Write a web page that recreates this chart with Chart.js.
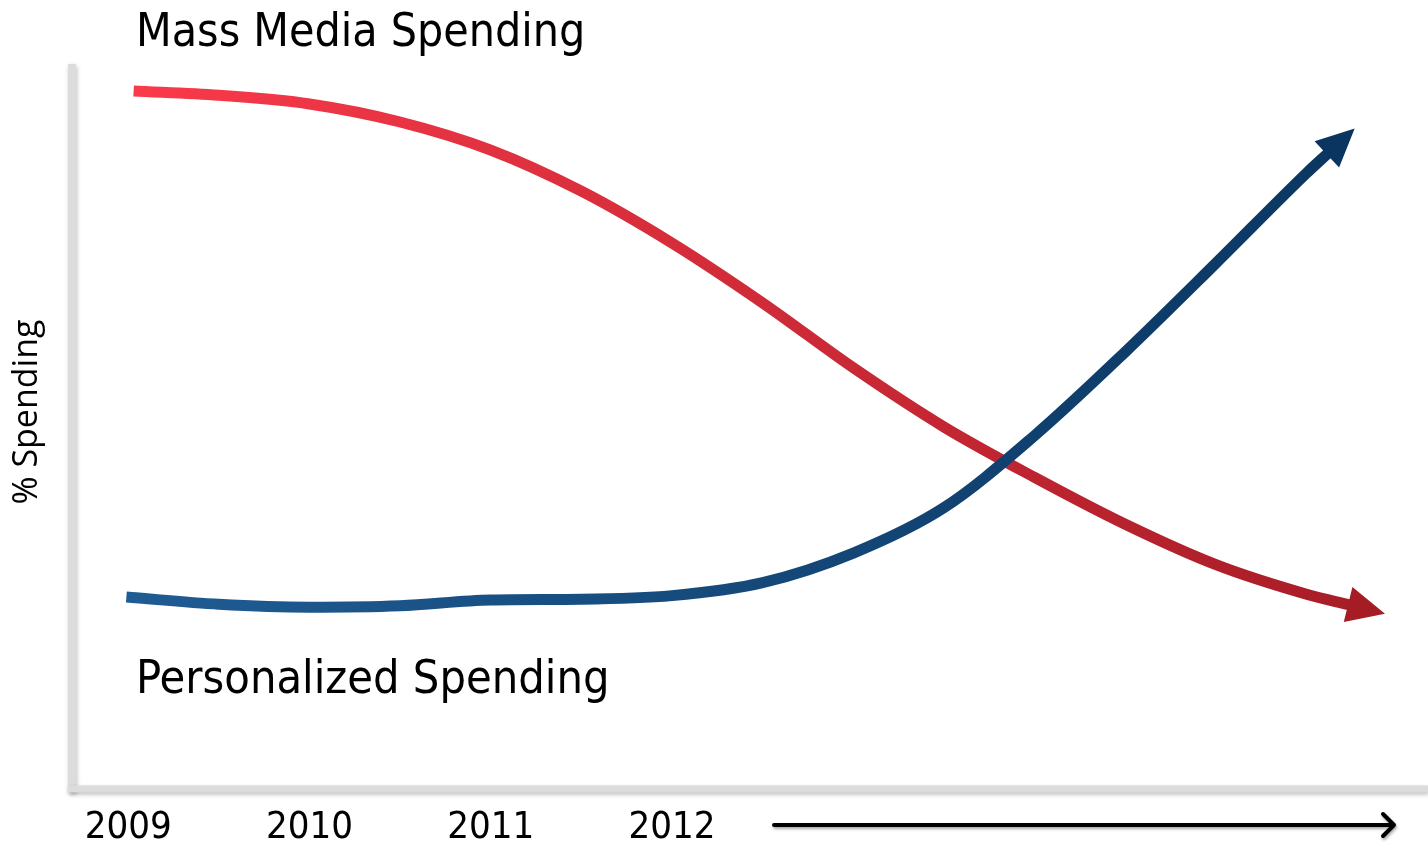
<!DOCTYPE html>
<html>
<head>
<meta charset="utf-8">
<script src="https://cdn.jsdelivr.net/npm/chart.js@4/dist/chart.umd.min.js"></script>
<style>
  html, body { margin: 0; padding: 0; background: #fff; }
  #wrap { width: 1428px; height: 849px; position: relative; }
</style>
</head>
<body>
<div id="wrap"><canvas id="chart"></canvas></div>
<script>
// years shown along the bottom axis
const tickYears = [2009, 2010, 2011, 2012];

// mass media spending, % of budget
const massYears = [2009.03, 2009.5, 2010, 2010.5, 2011, 2011.5, 2012, 2012.5, 2013, 2013.5, 2014, 2014.5, 2015, 2015.5, 2015.74];
const massMedia = [96.4, 95.8, 94.6, 92.1, 88.2, 82.5, 75.3, 67.0, 58.0, 49.8, 42.8, 36.3, 30.7, 26.6, 25.1];

// personalized spending, % of budget
const personalYears = [2008.99, 2009.5, 2010, 2010.5, 2011, 2011.5, 2012, 2012.5, 2013, 2013.5, 2014, 2014.5, 2015, 2015.5, 2015.62];
const personalized = [26.2, 25.2, 24.8, 25.0, 25.8, 25.9, 26.4, 28.2, 32.3, 38.6, 48.6, 60.2, 72.5, 85.0, 87.8];

const labelFont = '"DejaVu Sans Condensed", "DejaVu Sans", sans-serif';

function toPoints(xs, ys) {
    return xs.map((x, i) => ({ x: x, y: ys[i] }));
}

function strokeGradient(from, to) {
    return function (context) {
        const chart = context.chart;
        const area = chart.chartArea;
        if (!area) return from;
        const g = chart.ctx.createLinearGradient(area.left + 56, 0, area.right - 40, 0);
        g.addColorStop(0, from);
        g.addColorStop(1, to);
        return g;
    };
}

// grey frame on the left and bottom, with a soft shadow
const framePlugin = {
    id: 'frame',
    beforeDatasetsDraw(chart) {
        const { ctx, chartArea } = chart;
        ctx.save();
        ctx.shadowColor = 'rgba(0,0,0,0.25)';
        ctx.shadowBlur = 4;
        ctx.shadowOffsetX = 1;
        ctx.shadowOffsetY = 2;
        ctx.strokeStyle = '#dcdcdc';
        ctx.lineCap = 'butt';
        ctx.lineWidth = 8;
        ctx.beginPath();
        ctx.moveTo(chartArea.left, chartArea.top);
        ctx.lineTo(chartArea.left, chartArea.bottom + 3);
        ctx.stroke();
        ctx.lineWidth = 7;
        ctx.beginPath();
        ctx.moveTo(chartArea.left - 4, chartArea.bottom);
        ctx.lineTo(chartArea.right, chartArea.bottom);
        ctx.stroke();
        ctx.restore();
    }
};

// arrowheads at the end of each series, plus labels and the time arrow
const decorPlugin = {
    id: 'decor',
    afterDatasetsDraw(chart) {
        const { ctx } = chart;
        const heads = ['#0a3560', '#a51c25'];
        chart.data.datasets.forEach((ds, i) => {
            const pts = chart.getDatasetMeta(i).data;
            const end = pts[pts.length - 1];
            const prev = pts[pts.length - 2];
            const len = Math.hypot(end.x - prev.x, end.y - prev.y);
            const dx = (end.x - prev.x) / len, dy = (end.y - prev.y) / len;
            const L = 36, W = 18;
            ctx.save();
            ctx.fillStyle = heads[i];
            ctx.beginPath();
            ctx.moveTo(end.x + dx * L, end.y + dy * L);
            ctx.lineTo(end.x - dy * W - dx * 2, end.y + dx * W - dy * 2);
            ctx.lineTo(end.x + dy * W - dx * 2, end.y - dx * W - dy * 2);
            ctx.closePath();
            ctx.fill();
            ctx.restore();
        });

        ctx.save();
        ctx.fillStyle = '#000';
        ctx.textBaseline = 'alphabetic';
        ctx.textAlign = 'left';
        ctx.font = '46px ' + labelFont;
        ctx.fillText('Mass Media Spending', 136, 46);
        ctx.font = '46.5px ' + labelFont;
        ctx.fillText('Personalized Spending', 136, 693);

        // % Spending, rotated along the left edge
        ctx.translate(27, 412);
        ctx.rotate(-Math.PI / 2);
        ctx.textAlign = 'center';
        ctx.textBaseline = 'middle';
        ctx.font = '34px "Open Sans", sans-serif';
        ctx.fillText('% Spending', 0, 0);
        ctx.restore();

        // time arrow beside the year labels
        const y = 825;
        ctx.save();
        ctx.shadowColor = 'rgba(0,0,0,0.35)';
        ctx.shadowBlur = 3;
        ctx.shadowOffsetX = 1;
        ctx.shadowOffsetY = 2;
        ctx.strokeStyle = '#000';
        ctx.lineWidth = 4;
        ctx.lineCap = 'round';
        ctx.lineJoin = 'round';
        ctx.beginPath();
        ctx.moveTo(774, y);
        ctx.lineTo(1394, y);
        ctx.moveTo(1383, y - 11);
        ctx.lineTo(1394, y);
        ctx.lineTo(1383, y + 11);
        ctx.stroke();
        ctx.restore();
    }
};

new Chart(document.getElementById('chart'), {
    type: 'line',
    data: {
        datasets: [
            {
                label: 'Personalized Spending',
                data: toPoints(personalYears, personalized),
                borderColor: strokeGradient('#1f5c93', '#0a3560'),
                borderWidth: 11,
                pointRadius: 0,
                cubicInterpolationMode: 'monotone',
                fill: false
            },
            {
                label: 'Mass Media Spending',
                data: toPoints(massYears, massMedia),
                borderColor: strokeGradient('#fa3a4b', '#a51c25'),
                borderWidth: 11,
                pointRadius: 0,
                cubicInterpolationMode: 'monotone',
                fill: false
            }
        ]
    },
    options: {
        responsive: true,
        maintainAspectRatio: false,
        animation: false,
        layout: { padding: { top: 64, right: 0, left: 0, bottom: 0 } },
        plugins: {
            legend: { display: false },
            tooltip: { enabled: false }
        },
        scales: {
            x: {
                type: 'linear',
                min: 2008.69,
                max: 2016.17,
                grid: { display: false },
                border: { display: false },
                afterBuildTicks: scale => {
                    scale.ticks = tickYears.map(v => ({ value: v }));
                },
                afterFit: scale => { scale.height = 60; },
                ticks: {
                    color: '#000',
                    padding: 8,
                    maxRotation: 0,
                    font: { family: labelFont, size: 38 },
                    callback: v => String(v)
                }
            },
            y: {
                min: -0.42,
                max: 100.14,
                grid: { display: false },
                border: { display: false },
                ticks: { display: false },
                afterFit: scale => { scale.width = 72; }
            }
        }
    },
    plugins: [framePlugin, decorPlugin]
});
</script>
</body>
</html>
